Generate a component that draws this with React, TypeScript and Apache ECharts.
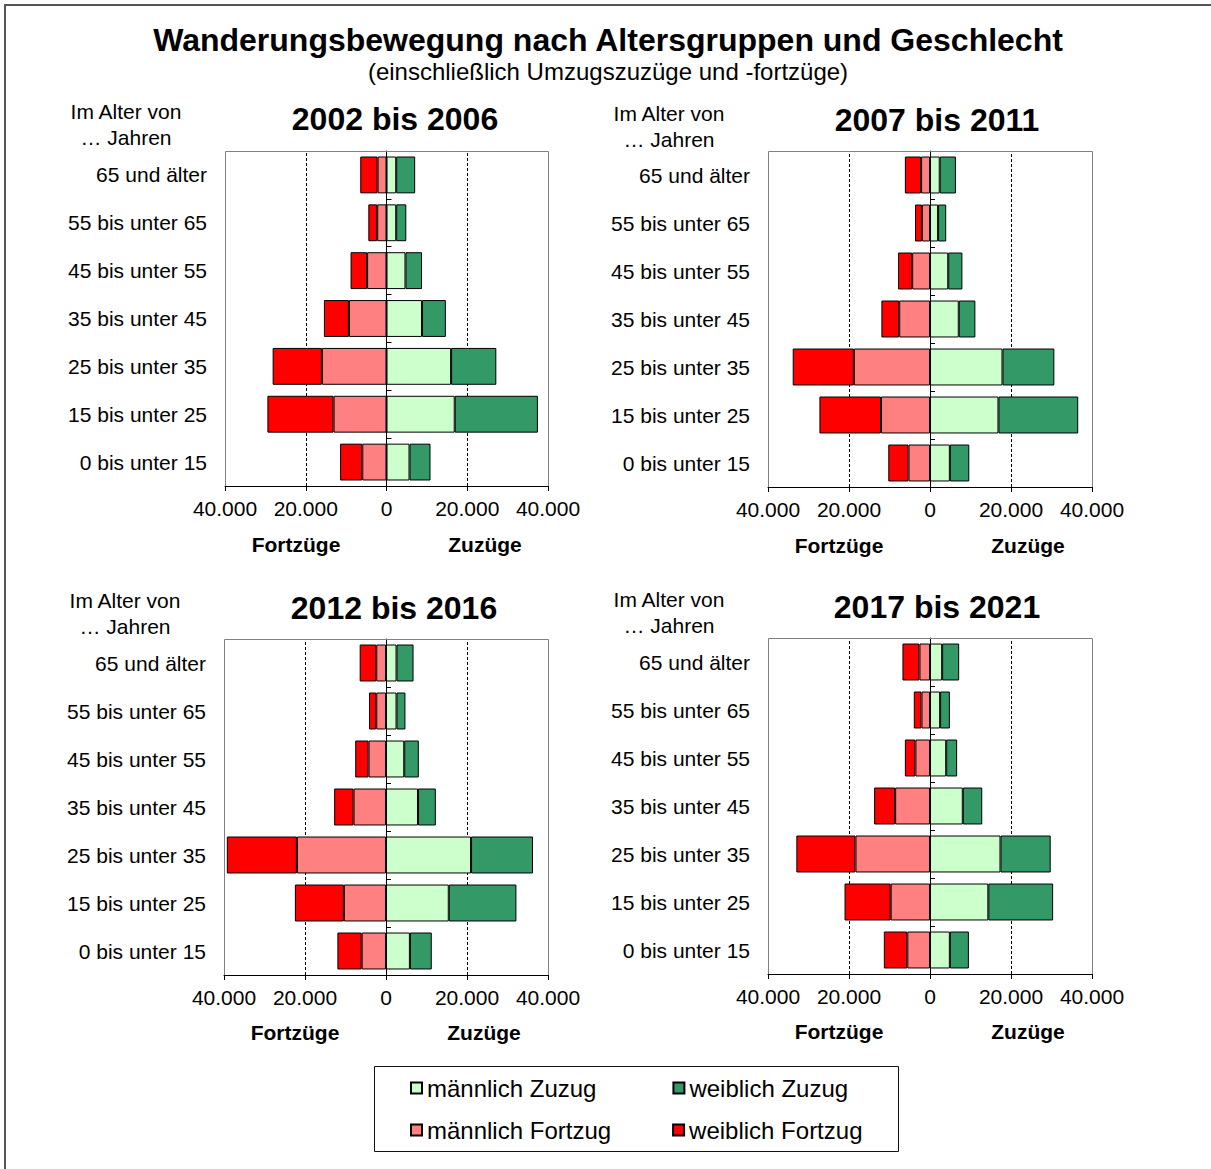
import React, { useEffect, useRef } from 'react';
import * as echarts from 'echarts';

const FONT = '"Liberation Sans", Arial, Helvetica, sans-serif';

// Age groups, bottom to top
const ageGroups = [
  '0 bis unter 15',
  '15 bis unter 25',
  '25 bis unter 35',
  '35 bis unter 45',
  '45 bis unter 55',
  '55 bis unter 65',
  '65 und älter',
];

const periods = ['2002 bis 2006', '2007 bis 2011', '2012 bis 2016', '2017 bis 2021'];
const seriesNames = ['männlich Zuzug', 'weiblich Zuzug', 'männlich Fortzug', 'weiblich Fortzug'];
const seriesColors = ['#CCFFCC', '#339966', '#FF8080', '#FF0000'];
const xMin = -40000;
const xMax = 40000;
const xInterval = 20000;
const dashedAt = [-20000, 20000];

// 2002 bis 2006
const zuzugM_2002 = [5700, 16900, 16000, 8800, 4700, 2400, 2400];
const zuzugW_2002 = [5200, 20600, 11200, 5900, 4100, 2500, 4700];
const fortzugM_2002 = [6000, 13100, 16000, 9300, 4800, 2300, 2200];
const fortzugW_2002 = [5500, 16400, 12200, 6200, 4100, 2200, 4300];

// 2007 bis 2011
const zuzugM_2007 = [4900, 16900, 17900, 7100, 4500, 2000, 2400];
const zuzugW_2007 = [4800, 19700, 12800, 4100, 3500, 2000, 4000];
const fortzugM_2007 = [5300, 12100, 18800, 7600, 4400, 2000, 2200];
const fortzugW_2007 = [5000, 15200, 15100, 4400, 3500, 1700, 4000];

// 2012 bis 2016
const zuzugM_2012 = [5900, 15500, 21000, 7900, 4500, 2600, 2600];
const zuzugW_2012 = [5400, 16700, 15300, 4400, 3600, 2200, 4200];
const fortzugM_2012 = [6000, 10400, 22000, 8000, 4300, 2400, 2400];
const fortzugW_2012 = [6000, 12100, 17300, 4800, 3300, 1800, 4100];

// 2017 bis 2021
const zuzugM_2017 = [4900, 14400, 17400, 8100, 4000, 2500, 3000];
const zuzugW_2017 = [4700, 16000, 12400, 4800, 2700, 2400, 4200];
const fortzugM_2017 = [5600, 9700, 18400, 8600, 3600, 2100, 2600];
const fortzugW_2017 = [5800, 11400, 14600, 5200, 2600, 1900, 4200];

const panelData = [
  [zuzugM_2002, zuzugW_2002, fortzugM_2002, fortzugW_2002],
  [zuzugM_2007, zuzugW_2007, fortzugM_2007, fortzugW_2007],
  [zuzugM_2012, zuzugW_2012, fortzugM_2012, fortzugW_2012],
  [zuzugM_2017, zuzugW_2017, fortzugM_2017, fortzugW_2017],
];

const gridBoxes = [
  { left: 225, top: 151, width: 323, height: 335 },
  { left: 768, top: 151, width: 324, height: 336 },
  { left: 224, top: 639, width: 324, height: 336 },
  { left: 768, top: 638, width: 324, height: 336 },
];

const panelTitlePos = [
  [395, 119],
  [937, 120],
  [394, 608],
  [937, 607],
];
const ageHeadPos = [
  [126, 111],
  [669, 113],
  [125, 600],
  [669, 599],
];
const fortPos = [
  [296, 544],
  [839, 545],
  [295, 1032],
  [839, 1031],
];
const zuPos = [
  [485, 544],
  [1028, 545],
  [484, 1032],
  [1028, 1031],
];

const fmt = (n: number) => String(Math.abs(n)).replace(/\B(?=(\d{3})+(?!\d))/g, '.');

function txt(x: number, y: number, text: string, size: number, bold = false) {
  return {
    type: 'text',
    x,
    y,
    silent: true,
    style: {
      text,
      fill: '#000',
      fontSize: size,
      fontWeight: bold ? 'bold' : 'normal',
      fontFamily: FONT,
      align: 'center',
      verticalAlign: 'middle',
    },
  };
}

export default function App() {
  const ref = useRef<HTMLDivElement>(null);

  useEffect(() => {
    document.body.style.margin = '0';
    if (!ref.current) return;
    const chart = echarts.init(ref.current, undefined, { renderer: 'svg' });

    const xAxis: any[] = [];
    const yAxis: any[] = [];
    const series: any[] = [];
    const graphic: any[] = [];

    gridBoxes.forEach((g, i) => {
      xAxis.push({
        gridIndex: i,
        type: 'value',
        min: xMin,
        max: xMax,
        interval: xInterval,
        axisLine: { show: true, onZero: false, lineStyle: { color: '#000', width: 1 } },
        axisTick: { show: true, length: 5, lineStyle: { color: '#000' } },
        axisLabel: {
          color: '#000',
          fontSize: 21,
          fontFamily: FONT,
          margin: 12,
          formatter: (v: number) => fmt(v),
        },
        splitLine: { show: false },
      });
      yAxis.push({
        gridIndex: i,
        type: 'category',
        data: ageGroups,
        axisLine: { show: false, onZero: false },
        axisTick: { show: false },
        axisLabel: { color: '#000', fontSize: 21, fontFamily: FONT, margin: 18 },
        splitLine: { show: false },
      });
      yAxis.push({
        gridIndex: i,
        type: 'category',
        data: ageGroups,
        axisLine: { show: true, onZero: true, lineStyle: { color: '#000', width: 1 } },
        axisTick: { show: true, length: 5, lineStyle: { color: '#000' } },
        axisLabel: { show: false },
        splitLine: { show: false },
      });
      panelData[i].forEach((vals, s) => {
        const ser: any = {
          type: 'bar',
          name: seriesNames[s],
          xAxisIndex: i,
          yAxisIndex: 2 * i,
          stack: 'p' + i,
          barCategoryGap: '23%',
          data: s < 2 ? vals.slice() : vals.map((v) => -v),
          itemStyle: { color: seriesColors[s], borderColor: '#000', borderWidth: 1 },
          emphasis: { disabled: true },
        };
        if (s === 0) {
          ser.markLine = {
            silent: true,
            symbol: 'none',
            z: 1,
            label: { show: false },
            lineStyle: { color: '#000', width: 1, type: [3, 2] },
            data: dashedAt.map((x) => ({ xAxis: x })),
          };
        }
        series.push(ser);
      });
      graphic.push({
        type: 'rect',
        silent: true,
        z: 50,
        shape: { x: g.left + 0.5, y: g.top + 0.5, width: g.width, height: g.height },
        style: { fill: 'none', stroke: '#808080', lineWidth: 1 },
      });
      graphic.push({
        type: 'line',
        silent: true,
        z: 51,
        shape: { x1: g.left, y1: g.top + g.height + 0.5, x2: g.left + g.width + 1, y2: g.top + g.height + 0.5 },
        style: { stroke: '#000', lineWidth: 1 },
      });
      graphic.push(txt(panelTitlePos[i][0], panelTitlePos[i][1], periods[i], 32, true));
      graphic.push(txt(ageHeadPos[i][0], ageHeadPos[i][1], 'Im Alter von', 21));
      graphic.push(txt(ageHeadPos[i][0], ageHeadPos[i][1] + 26, '… Jahren', 21));
      graphic.push(txt(fortPos[i][0], fortPos[i][1], 'Fortzüge', 21, true));
      graphic.push(txt(zuPos[i][0], zuPos[i][1], 'Zuzüge', 21, true));
    });

    graphic.push({
      type: 'rect',
      silent: true,
      shape: { x: 5, y: 5, width: 1230, height: 1190 },
      style: { fill: 'none', stroke: '#555', lineWidth: 2 },
    });
    graphic.push({
      type: 'rect',
      silent: true,
      shape: { x: 374.5, y: 1066.5, width: 524, height: 85 },
      style: { fill: 'none', stroke: '#111', lineWidth: 1 },
    });
    graphic.push(txt(608, 40, 'Wanderungsbewegung nach Altersgruppen und Geschlecht', 32, true));
    graphic.push(txt(608, 71, '(einschließlich Umzugszuzüge und -fortzüge)', 24));

    const legendBase = {
      left: 410,
      itemWidth: 11,
      itemHeight: 11,
      padding: 0,
      icon: 'rect',
      selectedMode: false,
      textStyle: { fontSize: 24, fontFamily: FONT, color: '#000' },
    };

    chart.setOption({
      animation: false,
      backgroundColor: '#fff',
      grid: gridBoxes.map((g) => ({ ...g, show: false })),
      xAxis,
      yAxis,
      series,
      legend: [
        { ...legendBase, data: [seriesNames[0], seriesNames[1]], top: 1076, itemGap: 76 },
        { ...legendBase, data: [seriesNames[2], seriesNames[3]], top: 1118, itemGap: 61 },
      ],
      graphic,
    });

    return () => chart.dispose();
  }, []);

  return <div ref={ref} style={{ width: 1211, height: 1169 }} />;
}
